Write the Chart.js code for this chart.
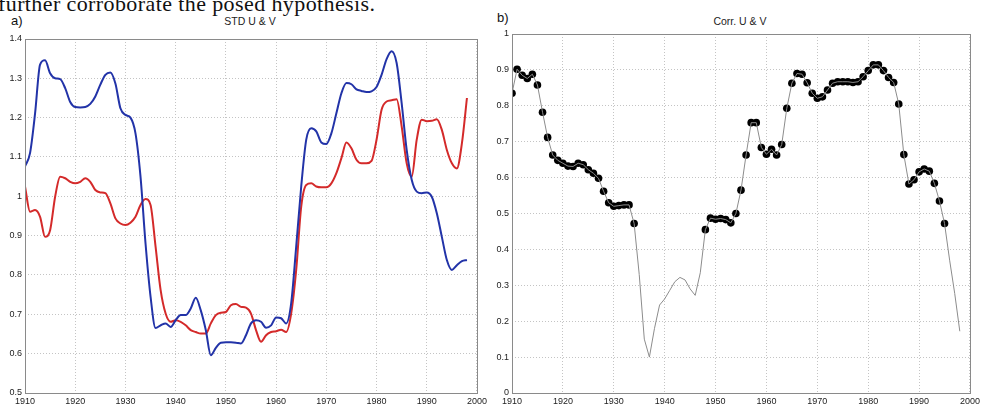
<!DOCTYPE html>
<html>
<head>
<meta charset="utf-8">
<script src="https://cdn.jsdelivr.net/npm/chart.js@4.4.0/dist/chart.umd.min.js"></script>
<style>
  body { margin: 0; background: #fff; width: 983px; height: 409px; overflow: hidden; position: relative; font-family: "Liberation Sans", Arial, sans-serif; }
  canvas { position: absolute; top: 0; }
  .txt { position: absolute; white-space: nowrap; color: #111; }
  #intro { left: -2px; top: -7px; font-family: "Liberation Serif", "Times New Roman", serif; font-size: 22px; line-height: 22px; letter-spacing: 0.4px; }
  .panel { font-size: 13px; }
  .title { font-size: 10.5px; transform: translateX(-50%); color: #222; }
</style>
</head>
<body>
<div class="txt" id="intro">further corroborate the posed hypothesis.</div>
<div class="txt panel" style="left:11px; top:13px;">a)</div>
<div class="txt panel" style="left:497px; top:10px;">b)</div>
<div class="txt title" style="left:250px; top:15px;">STD U &amp; V</div>
<div class="txt title" style="left:740px; top:15px;">Corr. U &amp; V</div>
<canvas id="stdChart" width="490" height="409" style="left:0"></canvas>
<canvas id="corrChart" width="493" height="409" style="left:490px"></canvas>
<script>
// years 1910 .. 1998
const years = [];
for (let y = 1910; y <= 1998; y++) years.push(y);

// STD of U (blue) and V (red)
const stdU = [
  1.076, 1.11, 1.21, 1.335, 1.346, 1.313, 1.30, 1.298, 1.275, 1.24,
  1.227, 1.226, 1.227, 1.235, 1.254, 1.284, 1.309, 1.315, 1.287, 1.224,
  1.207, 1.20, 1.16, 1.05, 0.88, 0.745, 0.665, 0.672, 0.677, 0.668,
  0.685, 0.698, 0.698, 0.715, 0.742, 0.71, 0.66, 0.596, 0.615, 0.628,
  0.629, 0.629, 0.628, 0.626, 0.647, 0.677, 0.685, 0.681, 0.666, 0.672,
  0.692, 0.69, 0.677, 0.728, 0.872, 1.025, 1.144, 1.173, 1.165, 1.137,
  1.133, 1.16, 1.211, 1.262, 1.288, 1.285, 1.272, 1.268, 1.265, 1.267,
  1.278, 1.309, 1.349, 1.369, 1.339, 1.237, 1.118, 1.042, 1.012, 1.008,
  1.01, 0.999, 0.957, 0.897, 0.838, 0.813, 0.825, 0.835, 0.838
];
const stdV = [
  1.025, 0.961, 0.965, 0.948, 0.897, 0.914, 0.999, 1.05, 1.046, 1.037,
  1.033, 1.037, 1.046, 1.037, 1.016, 1.01, 1.008, 0.982, 0.944, 0.931,
  0.927, 0.933, 0.948, 0.978, 0.993, 0.978, 0.872, 0.762, 0.702, 0.681,
  0.685, 0.681, 0.672, 0.66, 0.655, 0.651, 0.651, 0.677, 0.698, 0.704,
  0.706, 0.723, 0.726, 0.719, 0.717, 0.702, 0.66, 0.63, 0.647, 0.655,
  0.657, 0.661, 0.655, 0.702, 0.813, 0.974, 1.029, 1.033, 1.025, 1.023,
  1.023, 1.033, 1.059, 1.097, 1.137, 1.122, 1.093, 1.084, 1.084, 1.09,
  1.144, 1.22, 1.241, 1.244, 1.247, 1.178, 1.084, 1.05, 1.144, 1.195,
  1.191, 1.192, 1.196, 1.169, 1.118, 1.084, 1.071, 1.135, 1.25
];

// correlation of U and V
const corrUV = [
  0.835, 0.902, 0.885, 0.876, 0.888, 0.858, 0.782, 0.712, 0.663, 0.648,
  0.640, 0.632, 0.631, 0.640, 0.636, 0.622, 0.612, 0.598, 0.562, 0.530,
  0.520, 0.522, 0.524, 0.524, 0.472, 0.330, 0.150, 0.100, 0.180, 0.245,
  0.262, 0.286, 0.310, 0.322, 0.315, 0.290, 0.272, 0.335, 0.455, 0.487,
  0.484, 0.486, 0.483, 0.474, 0.500, 0.565, 0.663, 0.753, 0.753, 0.684,
  0.665, 0.679, 0.663, 0.692, 0.793, 0.863, 0.890, 0.888, 0.864, 0.835,
  0.821, 0.825, 0.844, 0.863, 0.867, 0.867, 0.867, 0.865, 0.867, 0.881,
  0.898, 0.914, 0.914, 0.898, 0.879, 0.865, 0.805, 0.664, 0.582, 0.594,
  0.616, 0.624, 0.618, 0.584, 0.535, 0.472, 0.370, 0.277, 0.172
];
// years marked with a dot
const markedRanges = [[1910, 1934], [1948, 1995]];

const xTicks = [1910, 1920, 1930, 1940, 1950, 1960, 1970, 1980, 1990, 2000];

function pts(vals, keep) {
  return years.map((yr, i) => ({ x: yr, y: (keep && !keep(yr)) ? null : vals[i] }));
}
const isMarked = yr => markedRanges.some(r => yr >= r[0] && yr <= r[1]);

const boxPlugin = {
  id: 'box',
  afterDraw(chart) {
    const a = chart.chartArea, ctx = chart.ctx;
    ctx.save();
    ctx.strokeStyle = '#8a8a8a';
    ctx.lineWidth = 1;
    ctx.strokeRect(Math.round(a.left) + 0.5, Math.round(a.top) + 0.5,
      Math.round(a.right - a.left), Math.round(a.bottom - a.top));
    ctx.restore();
  }
};

const tickFont = { family: 'Liberation Sans', size: 9 };

function axes(yMin, yMax, yWidth) {
  return {
    x: {
      type: 'linear', min: 1910, max: 2000,
      afterBuildTicks: s => { s.ticks = xTicks.map(v => ({ value: v })); },
      afterFit: s => { s.height = 16; },
      grid: { color: '#c4c4c4', drawTicks: false },
      border: { display: false, dash: [1, 2] },
      ticks: { color: '#222', font: tickFont, padding: 3, maxRotation: 0, callback: v => String(v) }
    },
    y: {
      min: yMin, max: yMax,
      afterFit: s => { s.width = yWidth; },
      grid: { color: '#c4c4c4', drawTicks: false },
      border: { display: false, dash: [1, 2] },
      ticks: { color: '#222', font: tickFont, padding: 3, stepSize: 0.1,
        callback: v => String(+v.toFixed(1)) }
    }
  };
}

Chart.defaults.animation = false;

new Chart(document.getElementById('stdChart'), {
  type: 'line',
  data: {
    datasets: [
      { label: 'U', data: pts(stdU), borderColor: '#2233a8', borderWidth: 2,
        pointRadius: 0, cubicInterpolationMode: 'monotone' },
      { label: 'V', data: pts(stdV), borderColor: '#d42a2a', borderWidth: 2,
        pointRadius: 0, cubicInterpolationMode: 'monotone' }
    ]
  },
  options: {
    responsive: false,
    layout: { padding: { top: 39, right: 13, left: 0, bottom: 0 } },
    plugins: { legend: { display: false }, tooltip: { enabled: false } },
    scales: axes(0.5, 1.4, 25)
  },
  plugins: [boxPlugin]
});

new Chart(document.getElementById('corrChart'), {
  type: 'line',
  data: {
    datasets: [
      { label: 'Corr', data: pts(corrUV), borderColor: '#8c8c8c', borderWidth: 1,
        pointRadius: 0, tension: 0 },
      { label: 'Corr marked', data: pts(corrUV, isMarked), showLine: false,
        pointRadius: 3.8, pointBackgroundColor: '#000', pointBorderColor: '#000', pointBorderWidth: 0 }
    ]
  },
  options: {
    responsive: false,
    layout: { padding: { top: 34, right: 13, left: 0, bottom: 0 } },
    plugins: { legend: { display: false }, tooltip: { enabled: false } },
    scales: axes(0, 1, 22)
  },
  plugins: [boxPlugin]
});
</script>
</body>
</html>
